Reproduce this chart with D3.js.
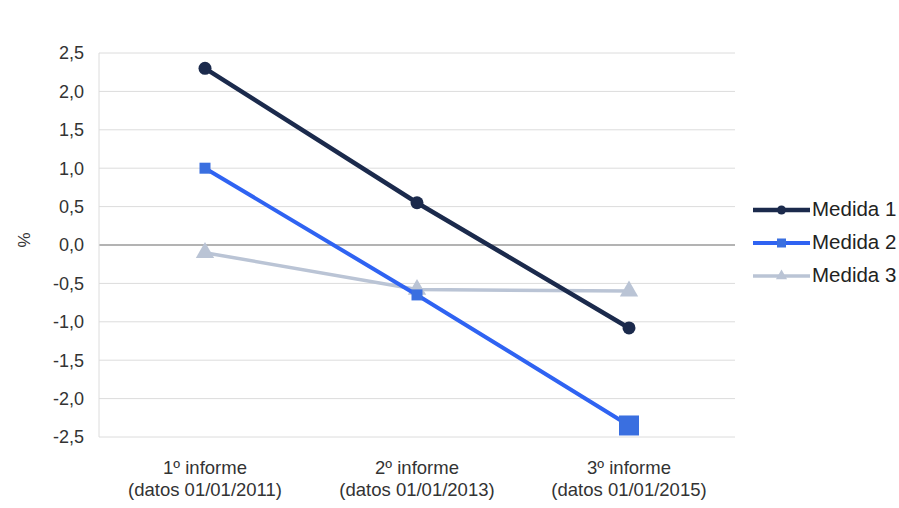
<!DOCTYPE html>
<html><head><meta charset="utf-8">
<script src="https://cdn.jsdelivr.net/npm/d3@7/dist/d3.min.js"></script>
<style>body{margin:0;background:#fff}svg{display:block}text{font-family:"Liberation Sans",Arial,sans-serif}</style>
</head><body>
<svg id="c" width="899" height="508"></svg>
<script>
const categories = [["1º informe","(datos 01/01/2011)"],["2º informe","(datos 01/01/2013)"],["3º informe","(datos 01/01/2015)"]];
const medida1 = [2.3, 0.55, -1.08];
const medida2 = [1.0, -0.65, -2.35];
const medida3 = [-0.1, -0.58, -0.6];
const yTicks = [2.5, 2.0, 1.5, 1.0, 0.5, 0.0, -0.5, -1.0, -1.5, -2.0, -2.5];
const seriesNames = ["Medida 1","Medida 2","Medida 3"];

const svg = d3.select("#c");
const L = 99, R = 735, T = 53, B = 437;
const x = d3.scaleBand().domain([0,1,2]).range([L,R]);
const y = d3.scaleLinear().domain([-2.5,2.5]).range([B,T]);
const fmt = v => d3.format(".1f")(v).replace(".", ",").replace("−","-");

// grid
svg.append("g").selectAll("line").data(yTicks).join("line")
  .attr("x1",L).attr("x2",R).attr("y1",d=>y(d)).attr("y2",d=>y(d))
  .attr("stroke",d=>d===0?"#9a9a9a":"#dcdcdc").attr("stroke-width",d=>d===0?1.3:1);
svg.append("line").attr("x1",L).attr("x2",L).attr("y1",T).attr("y2",B).attr("stroke","#dcdcdc");

// y labels
svg.append("g").selectAll("text").data(yTicks).join("text")
  .attr("x",84).attr("y",d=>y(d)).attr("dy","0.36em").attr("text-anchor","end")
  .attr("font-size",18).attr("fill","#333").text(fmt);
svg.append("text").attr("transform","translate(30,240) rotate(-90)").attr("text-anchor","middle")
  .attr("font-size",17).attr("fill","#333").text("%");

// x labels
const xl = svg.append("g").selectAll("text").data(categories).join("text")
  .attr("x",(d,i)=>x(i)+x.bandwidth()/2).attr("y",474).attr("text-anchor","middle")
  .attr("font-size",18.5).attr("fill","#333");
xl.append("tspan").attr("x",(d,i)=>x(i)+x.bandwidth()/2).text(d=>d[0]);
xl.append("tspan").attr("x",(d,i)=>x(i)+x.bandwidth()/2).attr("dy",22).text(d=>d[1]);

const cx = i => x(i)+x.bandwidth()/2;
const line = d3.line().x((d,i)=>cx(i)).y(d=>y(d));
const series = [
  {name:seriesNames[0], data:medida1, color:"#1b2a4c", w:4.5, marker:"circle"},
  {name:seriesNames[1], data:medida2, color:"#2f63f2", w:4, marker:"square"},
  {name:seriesNames[2], data:medida3, color:"#bac4d5", w:3.5, marker:"triangle"}
];
function marker(g, type, color, px, py, size){
  if(type==="circle") g.append("circle").attr("cx",px).attr("cy",py).attr("r",size/2).attr("fill",color);
  else if(type==="square") g.append("rect").attr("x",px-size/2).attr("y",py-size/2).attr("width",size).attr("height",size).attr("fill",color==="#2f63f2"?"#3a6fe0":color);
  else g.append("path").attr("d",d3.symbol(d3.symbolTriangle, size*size*0.45)()).attr("transform",`translate(${px},${py})`).attr("fill",color);
}
// draw in order 3,2,1 so Medida1 is on top
[2,1,0].forEach(k=>{
  const s = series[k];
  const g = svg.append("g");
  g.append("path").attr("d",line(s.data)).attr("fill","none").attr("stroke",s.color).attr("stroke-width",s.w);
  s.data.forEach((v,i)=>{
    let size = s.marker==="circle"?13:(s.marker==="square"?11:18);
    if(s.marker==="square" && i===2) size = 20;
    marker(g, s.marker, s.color, cx(i), y(v), size);
  });
});

// legend
series.forEach((s,k)=>{
  const ly = 210 + k*33;
  const g = svg.append("g");
  g.append("line").attr("x1",753).attr("x2",810).attr("y1",ly).attr("y2",ly).attr("stroke",s.color).attr("stroke-width",s.w);
  marker(g, s.marker, s.color, 781.5, ly, s.marker==="circle"?9:(s.marker==="square"?9:11));
  g.append("text").attr("x",812).attr("y",ly+6).attr("font-size",20.5).attr("fill","#222").text(s.name);
});
</script>
</body></html>
